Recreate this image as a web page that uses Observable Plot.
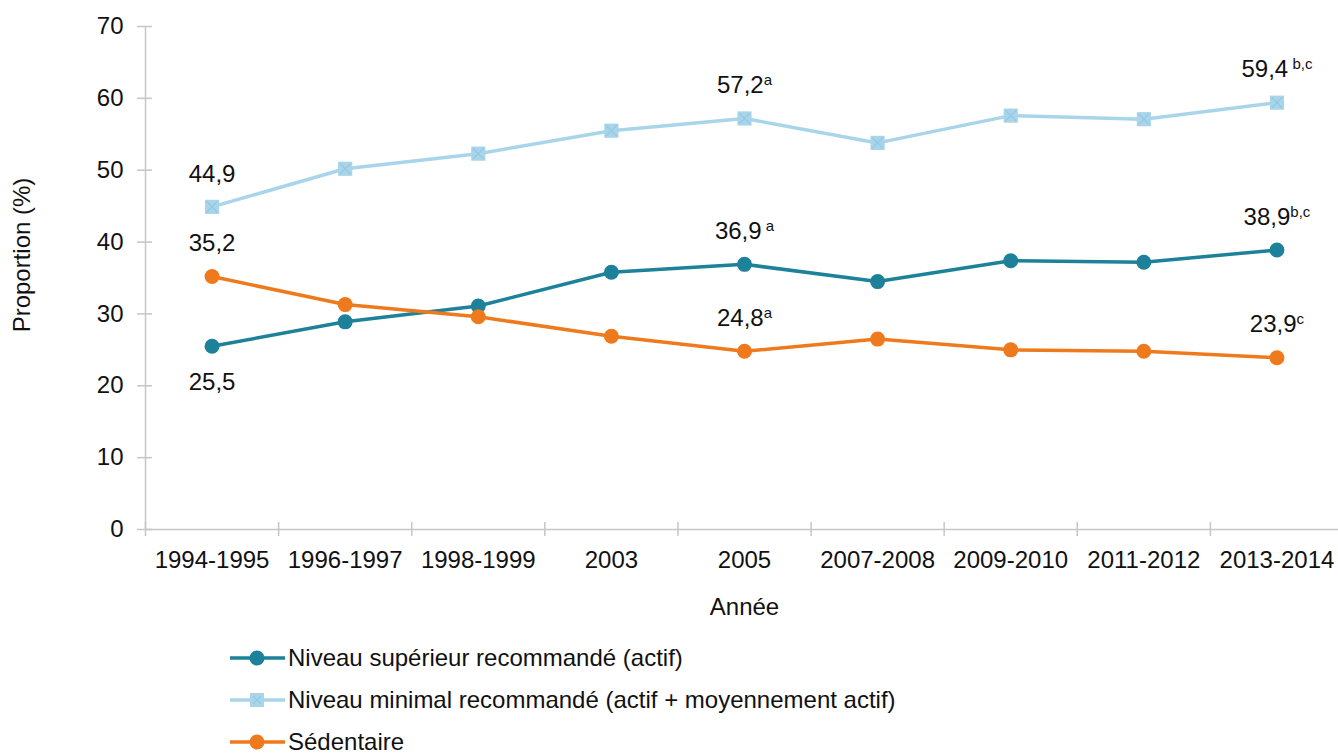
<!DOCTYPE html>
<html>
<head>
<meta charset="utf-8">
<script src="https://cdn.jsdelivr.net/npm/d3@7"></script>
<script src="https://cdn.jsdelivr.net/npm/@observablehq/plot@0.6"></script>
<style>
  body { margin: 0; background: #fff; font-family: "Liberation Sans", Arial, Helvetica, sans-serif; }
  #legend { margin-left: 230px; margin-top: 7px; }
  .item { display: flex; align-items: center; height: 42px; font-size: 24px; color: #111; }
  .item svg { margin-right: 1px; }
</style>
</head>
<body>
<div id="chart"></div>
<div id="legend"></div>
<script>
const categories = ["1994-1995","1996-1997","1998-1999","2003","2005","2007-2008","2009-2010","2011-2012","2013-2014"];
const actif      = [25.5, 28.9, 31.1, 35.8, 36.9, 34.5, 37.4, 37.2, 38.9];
const minimal    = [44.9, 50.2, 52.3, 55.5, 57.2, 53.8, 57.6, 57.1, 59.4];
const sedentaire = [35.2, 31.3, 29.6, 26.9, 24.8, 26.5, 25.0, 24.8, 23.9];
const seriesNames = [
  "Niveau supérieur recommandé (actif)",
  "Niveau minimal recommandé (actif + moyennement actif)",
  "Sédentaire"
];
const seriesColors = ["#1c8199", "#a9d5ea", "#ef7a1d"];
const yTicks = [0, 10, 20, 30, 40, 50, 60, 70];
// labelled points: index, series, note, placement
const labelIndex = [0, 4, 8];
const notesActif = ["", "", "", "", "\u00a0a", "", "", "", "b,c"];
const notesMinimal = ["", "", "", "", "a", "", "", "", "\u00a0b,c"];
const notesSed = ["", "", "", "", "a", "", "", "", "c"];
const placeActif = ["below", "", "", "", "above", "", "", "", "above"];

const seriesValues = [actif, minimal, sedentaire];
const seriesNotes = [notesActif, notesMinimal, notesSed];
const rows = [];
seriesValues.forEach((vals, s) => vals.forEach((v, i) => rows.push({i, cat: categories[i], value: v, series: seriesNames[s]})));
const labels = [];
seriesValues.forEach((vals, s) => labelIndex.forEach(i => {
  const note = seriesNotes[s][i];
  const txt = vals[i].toFixed(1).replace(".", ",") + (note ? "|" + note : "");
  labels.push({i, value: vals[i], text: txt, pos: s === 0 ? placeActif[i] : "above"});
}));

const idx = categories.map((_, i) => i);
const bounds = categories.map((_, i) => i - 0.5).concat([categories.length - 0.5]);
const gray = "#c6c6c6";
const FS = 24;

const chart = Plot.plot({
  width: 1338,
  height: 630,
  marginTop: 26,
  marginBottom: 101,
  marginLeft: 145,
  marginRight: 0,
  style: {fontFamily: "'Liberation Sans', Arial, Helvetica, sans-serif", fontSize: FS + "px", color: "#111", background: "#fff"},
  x: {domain: [-0.5, categories.length - 0.5], range: [145, 1343], axis: null, label: null},
  y: {domain: [0, 70], axis: null, label: null},
  color: {domain: seriesNames, range: seriesColors},
  marks: [
    Plot.ruleY([0], {x1: -0.5, x2: categories.length - 0.5, stroke: gray, strokeWidth: 1.5}),
    Plot.ruleX([-0.5], {y1: 0, y2: 70, stroke: gray, strokeWidth: 1.5}),
    Plot.axisY({ticks: yTicks, tickSize: 15, dx: 7, tickFormat: () => "", stroke: gray, strokeWidth: 1.5, label: null}),
    Plot.axisY({ticks: yTicks, tickSize: 0, tickPadding: 22, fill: "#111", fontSize: FS, label: null}),
    Plot.axisX({ticks: bounds, tickSize: 14, dy: -7, tickFormat: () => "", stroke: gray, strokeWidth: 1.5, label: null}),
    Plot.axisX({ticks: idx, tickSize: 0, tickPadding: 21, tickFormat: i => categories[i], fill: "#111", fontSize: FS, label: null}),
    Plot.text(["Proportion (%)"], {frameAnchor: "left", textAnchor: "middle", y: 38.2, dx: -123, rotate: -90, fontSize: FS, fill: "#111"}),
    Plot.text(["Année"], {frameAnchor: "bottom", x: 4, dy: 85, fontSize: FS, fill: "#111"}),
    Plot.line(rows, {x: "i", y: "value", stroke: "series", strokeWidth: 3.5}),
    Plot.dot(rows.filter(d => d.series !== seriesNames[1]), {x: "i", y: "value", fill: "series", r: 7.5}),
    Plot.dot(rows.filter(d => d.series === seriesNames[1]), {x: "i", y: "value", fill: seriesColors[1], symbol: "square", r: 8}),
    Plot.dot(rows.filter(d => d.series === seriesNames[1]), {x: "i", y: "value", stroke: "#93c8e2", symbol: "times", r: 5, strokeWidth: 1.2}),
    Plot.text(labels.filter(d => d.pos === "above"), {x: "i", y: "value", text: "text", dy: -33, fontSize: FS, fill: "#111"}),
    Plot.text(labels.filter(d => d.pos === "below"), {x: "i", y: "value", text: "text", dy: 36, fontSize: FS, fill: "#111"})
  ]
});

// superscripts
d3.select(chart).selectAll("text").each(function() {
  const t = this.textContent;
  if (t.includes("|")) {
    const [main, sup] = t.split("|");
    const el = d3.select(this);
    el.text(null);
    el.append("tspan").text(main);
    el.append("tspan").attr("font-size", 15).attr("dy", -8).text(sup);
  }
});
document.getElementById("chart").appendChild(chart);

// legend
const legend = d3.select("#legend");
seriesNames.forEach((name, s) => {
  const item = legend.append("div").attr("class", "item");
  const sv = item.append("svg").attr("width", 57).attr("height", 20);
  sv.append("line").attr("x1", 0).attr("x2", 55).attr("y1", 10).attr("y2", 10)
    .attr("stroke", seriesColors[s]).attr("stroke-width", 3.5);
  if (s === 1) {
    sv.append("rect").attr("x", 20).attr("y", 3).attr("width", 14).attr("height", 14).attr("fill", seriesColors[s]);
    sv.append("path").attr("d", "M23,6L31,14M31,6L23,14").attr("stroke", "#93c8e2").attr("stroke-width", 1.2);
  } else {
    sv.append("circle").attr("cx", 27).attr("cy", 10).attr("r", 7.5).attr("fill", seriesColors[s]);
  }
  item.append("span").text(name);
});
</script>
</body>
</html>
